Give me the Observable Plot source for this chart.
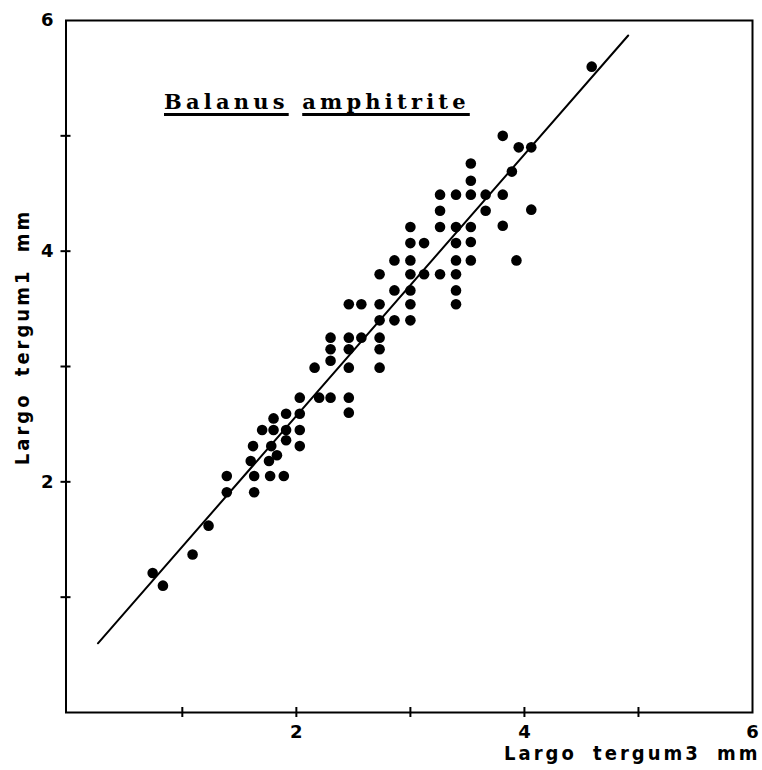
<!DOCTYPE html>
<html><head><meta charset="utf-8">
<script src="https://cdn.jsdelivr.net/npm/d3@7"></script>
<script src="https://cdn.jsdelivr.net/npm/@observablehq/plot@0.6"></script>
<style>
body{margin:0;background:#fff;}
#wrap{position:relative;width:762px;height:770px;}
#title{position:absolute;left:164px;top:90.5px;font-family:"DejaVu Serif";font-weight:bold;font-size:21px;line-height:21px;letter-spacing:4.2px;word-spacing:2px;color:#000;white-space:nowrap;}
#title span{text-decoration:underline;text-decoration-thickness:2.5px;text-underline-offset:4px;text-decoration-skip-ink:none;}
</style></head>
<body><div id="wrap"><div id="title"><span>Balanus</span> <span>amphitrite</span></div></div>
<script>
// Largo tergum 3 (mm) — x
const tergum3 = [0.74,0.83,1.09,1.23,1.39,1.39,1.63,1.63,1.60,1.62,1.77,1.89,1.76,1.83,1.78,1.70,1.80,1.80,1.91,1.91,1.91,2.03,2.03,2.03,2.03,2.20,2.30,2.46,2.46,2.16,2.46,2.73,2.30,2.30,2.46,2.73,2.30,2.46,2.57,2.73,2.73,2.86,3.00,2.46,2.57,2.73,3.00,3.40,2.86,3.00,3.40,2.73,3.00,3.12,3.26,3.40,2.86,3.00,3.40,3.53,3.93,3.00,3.12,3.40,3.53,3.00,3.26,3.40,3.53,3.81,3.26,3.66,4.06,3.26,3.40,3.53,3.66,3.81,3.53,3.89,3.53,3.95,4.06,3.81,4.59];
// Largo tergum 1 (mm) — y
const tergum1 = [1.21,1.10,1.37,1.62,2.05,1.91,2.05,1.91,2.18,2.31,2.05,2.05,2.18,2.23,2.31,2.45,2.45,2.55,2.45,2.36,2.59,2.59,2.45,2.31,2.73,2.73,2.73,2.73,2.60,2.99,2.99,2.99,3.05,3.15,3.15,3.15,3.25,3.25,3.25,3.25,3.40,3.40,3.40,3.54,3.54,3.54,3.54,3.54,3.66,3.66,3.66,3.80,3.80,3.80,3.80,3.80,3.92,3.92,3.92,3.92,3.92,4.07,4.07,4.07,4.08,4.21,4.21,4.21,4.21,4.22,4.35,4.35,4.36,4.49,4.49,4.49,4.49,4.49,4.61,4.69,4.76,4.90,4.90,5.00,5.60];
// fitted regression line end points
const fitX = [0.26, 4.91];
const fitY = [0.60, 5.87];
const tickValues = [1,2,3,4,5];
const xLabelValues = [2,4,6];
const yLabelValues = [2,4,6];
const xTitle = "Largo tergum3 mm";
const yTitle = "Largo tergum1 mm";

const dots = tergum3.map((x,i)=>({x, y: tergum1[i]}));
const fit = fitX.map((x,i)=>({x, y: fitY[i]}));
const tickFont = {fontFamily:"DejaVu Sans", fontWeight:"bold", fontSize:18};
const titleFont = {fontFamily:"'DejaVu Sans Condensed', 'DejaVu Sans'", fontWeight:"bold", fontSize:20};

const svg = Plot.plot({
  width:762, height:770,
  marginLeft:65.5, marginRight:10, marginTop:20, marginBottom:58,
  x:{domain:[-0.02,6]},
  y:{domain:[0,6]},
  style:{background:"white", color:"black"},
  marks:[
    Plot.frame({stroke:"black", strokeWidth:2}),
    Plot.axisX({ticks:tickValues, tickSize:10, dy:-5, tickFormat:()=>"", strokeWidth:2, label:null}),
    Plot.axisY({ticks:tickValues, tickSize:10, dx:5, tickFormat:()=>"", strokeWidth:2, label:null}),
    Plot.axisX({ticks:xLabelValues, tickSize:0, tickPadding:13, tickFormat:d=>String(d), label:null, ...tickFont}),
    Plot.axisY({ticks:yLabelValues, tickSize:0, tickPadding:12.5, tickFormat:d=>String(d), label:null, ...tickFont}),
    Plot.line(fit, {x:"x", y:"y", stroke:"black", strokeWidth:2}),
    Plot.dot(dots, {x:"x", y:"y", r:5.3, fill:"black", stroke:"none"}),
    Plot.text([yTitle], {text:d=>d, frameAnchor:"left", textAnchor:"middle", rotate:-90, dx:-43, dy:-29.5, lineAnchor:"middle", ...titleFont}),
    Plot.text([xTitle], {text:d=>d, frameAnchor:"bottom-right", textAnchor:"end", dx:8, dy:41, lineAnchor:"middle", ...titleFont})
  ]
});
d3.select(svg).selectAll("text")
  .filter(function(){ return this.textContent === xTitle || this.textContent === yTitle; })
  .style("letter-spacing", "3px")
  .style("word-spacing", "7px")
  .style("font-stretch", "condensed");
document.getElementById("wrap").prepend(svg);
</script>
</body></html>
